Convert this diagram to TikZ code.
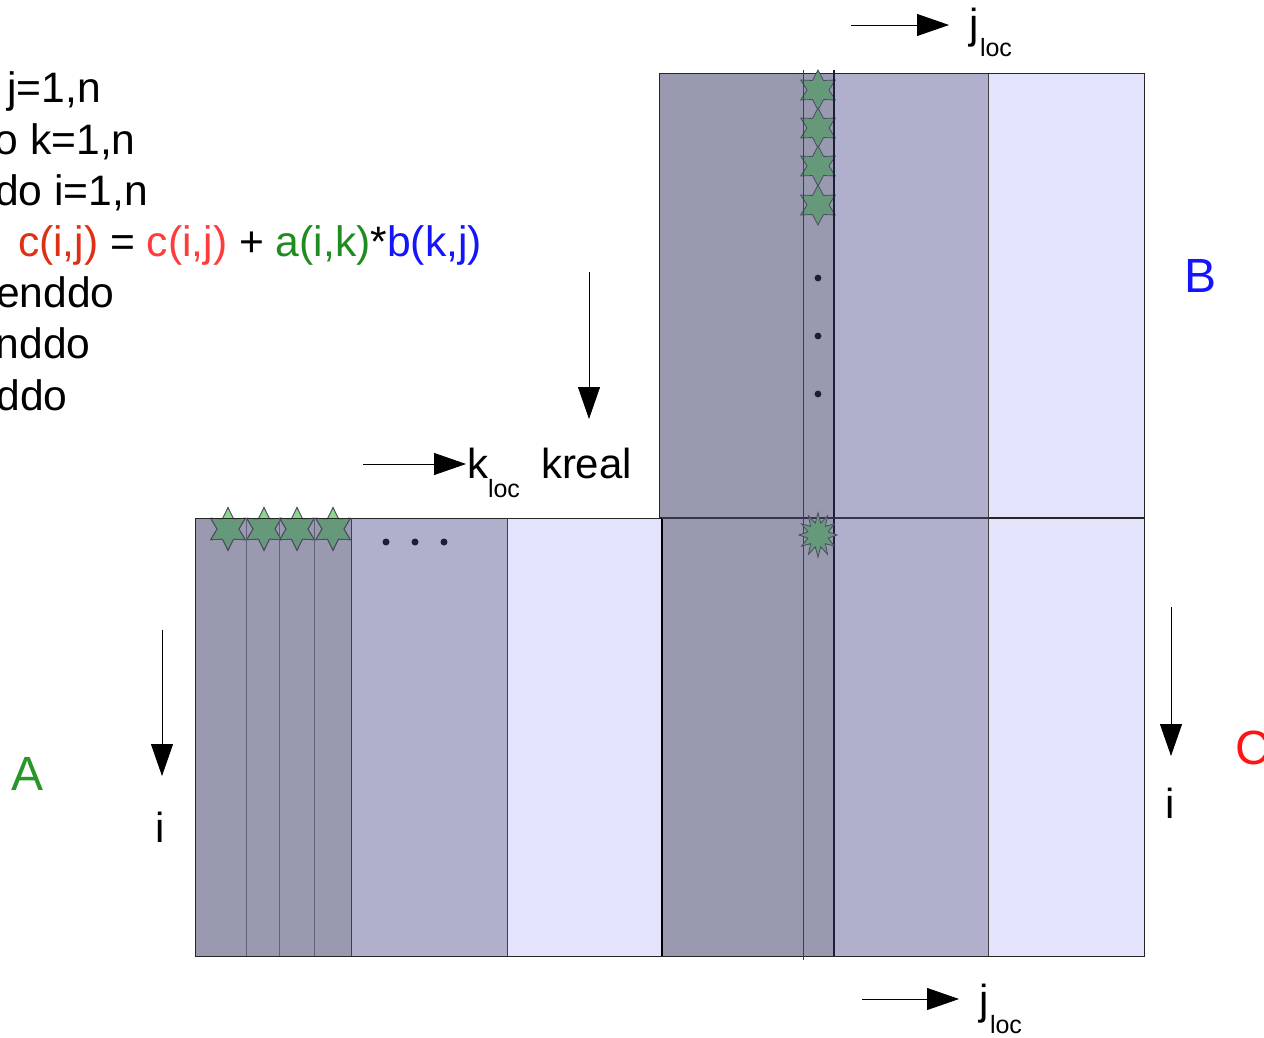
\documentclass[tikz,border=0pt]{standalone}
\usepackage{fontspec}
\setmainfont{Liberation Sans}
\usetikzlibrary{arrows.meta}
\definecolor{mdark}{RGB}{153,153,176}
\definecolor{mmed}{RGB}{176,176,205}
\definecolor{mlight}{RGB}{227,227,251}
\definecolor{stargreen}{RGB}{102,153,122}
\definecolor{starlight}{RGB}{140,215,140}
\definecolor{navy}{RGB}{30,30,60}
\definecolor{cred}{RGB}{222,48,20}
\definecolor{cred2}{RGB}{255,60,60}
\definecolor{agreen}{RGB}{30,140,30}
\definecolor{bblue}{RGB}{20,20,255}
\definecolor{labA}{RGB}{40,150,40}
\definecolor{labC}{RGB}{255,20,20}
\newcommand\codefnt{\fontsize{42.6}{51}\selectfont}
\newcommand\labfnt{\fontsize{48}{56}\selectfont}
\newcommand\midfnt{\fontsize{42}{50}\selectfont}
\newcommand\subfnt{\fontsize{25}{30}\selectfont}
\newcommand\drawstar[6]{%
  \pgfmathtruncatemacro\nv{2*#3-1}%
  \path[#1,shift={(#2)},yscale=#6] (90:#4) \foreach \k in {1,...,\nv}{ -- ({90+180/#3*\k}:{mod(\k,2)==1 ? #5 : #4}) } -- cycle;}
\begin{document}
\begin{tikzpicture}[x=1pt,y=-1pt,
  txt/.style={inner sep=0pt,outer sep=0pt},
  edge/.style={draw=black!85,line width=1pt},
  thin/.style={draw=black!75,line width=0.8pt},
  thick/.style={draw=navy,line width=2.5pt},
  starsty/.style={fill=stargreen,draw=navy!80,line width=0.8pt},
  arr/.style={draw=black,line width=0.9pt,-{Triangle[length=32pt,width=22pt]}},
  dotc/.style={fill=navy}]
\useasboundingbox (0,0) rectangle (1264,1038);
\clip (0,0) rectangle (1264,1038);

% ---------- matrix B ----------
\fill[mdark] (659,74) rectangle (834,517);
\fill[mmed] (834,74) rectangle (988,517);
\fill[mlight] (988,74) rectangle (1144,517);
\draw[edge] (659,74) rectangle (1144,517);
\draw[thin] (988,74) -- (988,517);
\coordinate (sb1) at (818,90);
\coordinate (sb2) at (818,128);
\coordinate (sb3) at (818,166);
\coordinate (sb4) at (818,205);
\foreach \s in {sb1,sb2,sb3,sb4}{\drawstar{starsty}{\s}{6}{20}{11}{1}}
\draw[thin] (803,70) -- (803,517);
\draw[thick] (834,70) -- (834,517);
\foreach \yy in {278,336,394}{\fill[dotc] (818,\yy) circle (3.4);}

% ---------- matrix A ----------
\fill[mdark] (195,518) rectangle (351,956);
\fill[mmed] (351,518) rectangle (507,956);
\fill[mlight] (507,518) rectangle (662,956);
\draw[edge] (195,518) rectangle (662,956);
\coordinate (sa1) at (228,529);
\coordinate (sa2) at (264,529);
\coordinate (sa3) at (297,529);
\coordinate (sa4) at (333,529);
\foreach \s in {sa1,sa2,sa3,sa4}{\drawstar{starsty}{\s}{6}{20}{11}{1.07}}
\begin{scope}
\clip (180,480) rectangle (400,518);
\foreach \s in {sa1,sa2,sa3,sa4}{\drawstar{fill=starlight}{\s}{6}{20}{11}{1.07}}
\end{scope}
\foreach \s in {sa1,sa2,sa3,sa4}{\drawstar{draw=navy!80,line width=0.8pt}{\s}{6}{20}{11}{1.07}}
\draw[edge] (195,518) -- (400,518);
\foreach \xx in {246,279,314}{\draw[draw=navy!70,line width=0.9pt] (\xx,518) -- (\xx,956);}
\draw[thin] (351,518) -- (351,956);
\draw[thin] (507,518) -- (507,956);
\foreach \xx in {386,415,444}{\fill[dotc] (\xx,542) circle (3.5);}

% ---------- matrix C ----------
\fill[mdark] (662,518) rectangle (834,956);
\fill[mmed] (834,518) rectangle (988,956);
\fill[mlight] (988,518) rectangle (1144,956);
\draw[edge] (662,518) rectangle (1144,956);
\draw[draw=black,line width=1.6pt] (662,518) -- (662,956);
\draw[draw=navy!90,line width=1.6pt] (662,518) -- (988,518);
\draw[thin] (988,518) -- (988,956);
\draw[thin] (803,518) -- (803,960);
\draw[thick] (834,518) -- (834,956);
\coordinate (sc) at (818,535);
\drawstar{starsty}{sc}{12}{19}{10.5}{1.17}

% ---------- code ----------
\node[txt,anchor=base west,font=\codefnt] (code1) at (-52,103) {do j=1,n};
\node[txt,anchor=base west,font=\codefnt] (code2) at (-29,154.2) {do k=1,n};
\node[txt,anchor=base west,font=\codefnt] (code3) at (-5,205.3) {do i=1,n};
\node[txt,anchor=base west,font=\codefnt] (code4) at (18,256.5) {\textcolor{cred}{c(i,j)} = \textcolor{cred2}{c(i,j)} + \textcolor{agreen}{a(i,k)}*\textcolor{bblue}{b(k,j)}};
\node[txt,anchor=base west,font=\codefnt] (code5) at (-4,307.7) {enddo};
\node[txt,anchor=base west,font=\codefnt] (code6) at (-28,358.8) {enddo};
\node[txt,anchor=base west,font=\codefnt] (code7) at (-51,410) {enddo};

% ---------- labels ----------
\node[txt,anchor=base west,font=\labfnt,text=labA] (labA) at (11,790) {A};
\node[txt,anchor=base west,font=\labfnt,text=bblue] (labB) at (1184,292) {B};
\node[txt,anchor=base west,font=\labfnt,text=labC] (labC) at (1235,764) {C};

% ---------- arrows ----------
\coordinate (jt0) at (851,25);
\coordinate (jt1) at (949,25);
\draw[arr] (jt0) -- (jt1);
\node[txt,anchor=base west,font=\midfnt] (jtop) at (969,39) {j};
\node[txt,anchor=base west,font=\subfnt] (jtopsub) at (980,57) {loc};

\coordinate (jb0) at (862,999);
\coordinate (jb1) at (959,999);
\draw[arr] (jb0) -- (jb1);
\node[txt,anchor=base west,font=\midfnt] (jbot) at (979,1014) {j};
\node[txt,anchor=base west,font=\subfnt] (jbotsub) at (990,1033) {loc};

\coordinate (k0) at (363,464);
\coordinate (k1) at (466,464);
\draw[arr] (k0) -- (k1);
\node[txt,anchor=base west,font=\midfnt] (kl) at (467,478) {k};
\node[txt,anchor=base west,font=\subfnt] (klsub) at (488,497) {loc};
\node[txt,anchor=base west,font=\midfnt] (kreal) at (541,478) {kreal};

\coordinate (v0) at (589,272);
\coordinate (v1) at (589,419);
\draw[arr] (v0) -- (v1);

\coordinate (il0) at (162,630);
\coordinate (il1) at (162,776);
\draw[arr] (il0) -- (il1);
\node[txt,anchor=base,font=\midfnt] (ileft) at (160,842) {i};

\coordinate (ir0) at (1171,607);
\coordinate (ir1) at (1171,756);
\draw[arr] (ir0) -- (ir1);
\node[txt,anchor=base,font=\midfnt] (iright) at (1170,818) {i};
\end{tikzpicture}
\end{document}
